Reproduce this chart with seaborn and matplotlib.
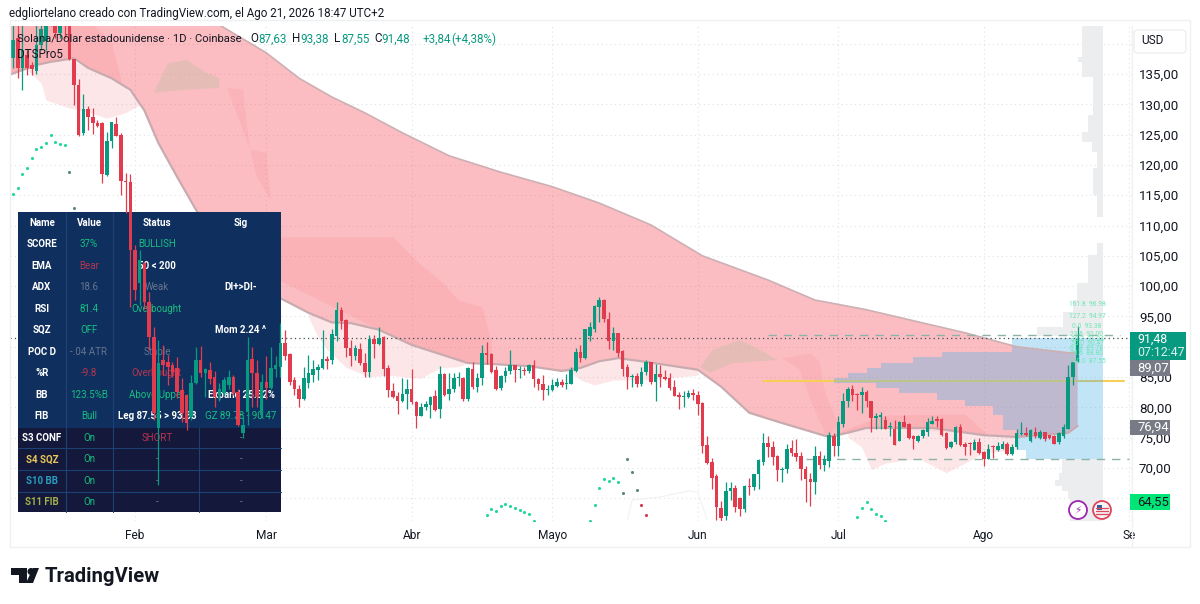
import numpy as np
import pandas as pd
import matplotlib
matplotlib.use("Agg")
import matplotlib.pyplot as plt
from matplotlib.patches import Rectangle, Circle, FancyBboxPatch, Polygon
import seaborn as sns

# candles, one row per month, day 0 is Feb 1
opens = [137.6,140.9,136,138.1,136.5,135.5,139.8,140.5,144.5,144,141.8,143.5,143,137.5,133.2,125.3,129.2,127.9,126.9,126.9,118.3,124,126.7,125,117.3,117.2,
         105.9,100.5,103.8,97.4,91.6,76.6,87.8,87.5,87,86.5,82.9,82,78.4,84,87.8,85.7,86.2,85,82,82.3,83.7,85,82.5,75.8,79.2,88,85.7,78.8,
         84.2,83.2,86.4,86.6,90.6,88.8,84.5,83,81.4,84,85.3,86.2,86.5,88,87.8,91.8,96,94.4,89.8,88.5,89.7,87.3,85.8,91.3,90.5,91.6,86.5,82.7,81.9,81,82.2,
         83,80.9,78.6,80.1,80.4,81.8,79.7,85.5,82.2,83,84.8,84.9,81.3,86.3,83.3,84.8,89,88.8,86.2,83.2,85.2,86,87,86.1,86.2,86,87,84.7,83.9,82.8,
         82.9,83.5,84.1,83.8,83.8,86,89.2,88.2,91.7,93,96.5,97.7,94.5,91,92.3,89.3,86.6,85,85.2,83.8,85.9,87.4,84.1,85.5,85,84.8,83.3,82,81.7,81.7,82.3,
         82,80.7,73.7,71,68.7,63.4,62,66.2,66.7,65,63.2,67,66.8,69,71,74.1,73.5,72,69.7,69.8,73.3,72.5,72,69.9,68.1,67.7,72,70.5,71.2,75.3,
         73.6,77.2,81,83,82.2,82,82.5,81,78.2,78.4,77.9,76.7,76.5,74.5,77.6,77.2,75.2,74.5,75.2,76,77.3,78,78,75.7,73.4,74.2,76.7,74,74,73,74.3,
         72.7,71.4,73.6,73,73.2,74,72.3,73.4,75.6,75.8,74.5,76,75,76,75.4,75.2,74.2,75.2,76.5,85,87.63]
highs = [144,144,144,139,137,144,144,147,147,146,146,146,146,137.5,134.2,131.7,129.7,129.4,127.4,127,125.4,127,127.9,125.2,118.7,118.5,
         106.8,106,104,99,93.3,91.1,90.3,88.6,87.5,88.3,84.8,82.2,85.3,90,90.1,86.5,87.5,86,84,85,86.2,85.3,83,78.4,91.6,90,87.8,85.5,
         88.5,90,88.5,93.9,92.8,89,85,83.7,86.6,88.6,87.8,87.2,92.8,88.5,92.9,97.4,96.6,94.5,91.1,90.2,90.6,88.9,92,92,93.2,91.7,87,84,82.6,84.8,84.6,
         86.4,81,80.7,81,81.8,82.8,86.8,85.6,85.7,85.6,85.9,85,86.6,87.5,85.6,90.3,90.7,88.9,86.8,85.4,86.7,89.4,87,86.8,86.7,87.1,87.8,84.8,85.3,83.7,
         84.6,84.8,84.6,85.5,86.7,89.8,90.3,93,94.1,96.9,98.2,97.8,95.7,93.3,92.3,89.4,87.2,85.5,85.6,86.6,87.8,87.5,87.2,87,86.1,85.6,84.5,82.6,82.7,82.9,83,
         82.7,80.8,75.3,71.6,69,64.6,67.7,67.7,67.2,65.2,67.2,68.4,69,71.5,75.7,75.3,74.5,72.1,70.2,74,74.6,74.7,72.7,70.3,69.1,73.6,72.8,72.1,76,75.8,
         78.6,82.4,83.4,83.7,82.3,83.4,82.9,81.1,79,79.2,78.5,77.5,77.9,77.8,78.7,77.4,75.4,75.4,76.4,78.2,78.5,78.5,78.2,76,74.5,76.9,77.2,74.2,74.3,74.7,75,
         72.8,74,73.8,74.2,74.5,74.2,74,76.5,77.5,76.8,76.4,76.8,76.3,76,75.5,75.4,76,77.2,87,87.5,93.38]
lows = [136,134.3,132.4,134.8,134.8,135,139,139,143,141,141,141,137.3,129.9,124.8,125,125.8,125.1,126.2,117,118.2,122.8,124.7,115,112,96.5,
        97.7,96.9,96.2,89.5,77.9,67.2,85.3,83.7,85,81.6,77.5,76.3,77.9,83.9,85,81.7,83.9,80,81,81.8,83,82,76.9,75,77,80,80.1,78.3,
        81.3,83,85,85,87.8,83.7,82,80,81.2,83.2,84.2,84.5,86.4,86.4,87.1,91,93,88.3,86.8,87.8,87,85,85,88.2,90.3,85.2,81.7,81.6,78.9,80.9,79.8,
        80.5,76.6,78.5,79.5,78.3,79.4,78.2,81.8,81.2,82.6,83.5,81.1,81.1,83.1,82.6,83.7,87.2,85.6,82.8,82.8,84.2,85.5,84.2,84.8,85.3,85.7,83.4,82.9,81.2,82,
        82.7,83.3,83.4,83.1,83.8,85.9,87.5,88,91,92.5,94.1,94,89.7,89.5,88.3,85.2,83.1,83.3,83.4,83.5,85.3,83.8,81.1,83.4,84.5,82.8,81.8,79.7,80,81.5,81.2,
        78.7,72.4,70.7,66.6,61.4,61,61.4,64.7,62.7,62,62.8,65.5,66.3,66.6,70.5,71.8,70.5,67.9,67.7,69.2,71.9,71.2,68,64.4,63.7,65.7,69.9,69.5,70.2,71.9,
        71.9,76.8,80,81,79.5,79,80.1,76,76.4,76.4,76.4,75.3,73.8,74.5,76.7,74.7,73.2,74.3,75,75.3,77.2,76.7,75.3,73.2,73.3,74,73.6,72.1,72.1,72.9,72.3,
        70.3,71.4,71.6,72.8,73.1,72.1,72.2,73.2,75.4,75.3,74.3,75,74.8,74.5,74.7,73.9,74,75,76.4,83.7,87.55]
closes = [140.6,136,139,136,135.8,139.8,142.5,144.5,144,141.8,143,143,137.5,133.2,124.9,129.2,127.9,126.9,126.4,118.5,123.9,127,124.8,117.3,117.2,106,
          99.4,104.3,97.4,91.6,79,87.3,87,86.6,85.8,82.5,79,77.4,84,87.8,85.7,86.3,84.7,81.7,83,84.5,85,82.4,77,77,87.8,85.7,81.7,84.1,
          83.2,86.5,87,90.6,88.5,84.2,83,81.4,84.8,85.7,86.3,86.7,88,87.7,92.1,96,94.3,89.8,88.5,89.8,87.3,85.8,91.3,90.5,91.5,86.3,82.9,81.7,81,82.2,83,
          80.8,78.5,80,80.6,81.7,79.6,85.5,82.1,83,84.8,85,81.3,86.5,83.3,84.8,89,88.7,85.9,83.1,85.2,86,87,86.1,86.2,86,87,84.6,83.8,82.8,82.9,
          83.6,84.2,83.7,83.9,86.2,89.2,88.2,93,93.2,96.7,97.7,94.5,91,92.3,89,86.4,85,85.2,83.8,85.9,87.4,84.1,85.5,85,84.7,83.2,81.9,81.7,81.8,82.3,82,
          80.6,73.6,70.8,68.3,63.5,61.8,66.2,66.7,63.5,63.2,67,66.8,69,71.3,74.1,73.4,71.8,69.7,69.8,73.2,72.5,71.8,69.8,68.1,67.7,72,70.5,71.4,75.4,73.6,
          77.6,81,83,82,82,82.6,81,78.2,78.6,78.8,76.5,76.9,73.8,77.6,76.8,74.9,74.7,75.3,76.3,77.6,77.8,77.8,75.4,73.3,74.3,76.7,73.8,73.5,73.9,74.3,72.4,
          71.4,73.2,73.5,73.6,74,72.3,73.5,75.8,75.8,75.4,76.2,75.2,76,74.7,74.9,74,75.8,76.8,85,87.5,91.48]

# the big cloud
upper_days = [-27,18,28,35,42,49,57,67,78,89,99,110,121,135,145,156,167,177,188,199,201]
upper_vals = [150,143.1,138.5,134.3,131.2,128.6,125.3,121.5,118.8,116.4,113.7,110.1,105,101,97.7,96.1,94.1,92.3,90,89,89.07]
lower_days = [-27,-21,-18,-13,-10,-5,-1,2,5,9,13,20,26,31,37,42,46,52,59,67,71,77,84,91,95,99,103,109,120,125,131,138,148,152,156,170,181,188,199,201]
lower_vals = [134.8,136.5,137,137.6,136,134.3,132.4,129,123.6,118,112.6,105.1,101,98,95.6,94,93.9,92.8,90.3,88.3,87.3,87.1,86.8,86,86.5,87.6,88.1,87.5,86.2,83.4,79.1,77.4,75.1,75.8,76.6,76.6,75.4,75.1,75.8,76.94]

# lighter cloud under the band
light_a_days = [-23,-20,-19,-14,-10,-6,-2,1]
light_a_vals = [135.7,133.5,130.7,129.4,128.7,127.7,128.6,129.9]
light_b_days = [37,39,41,45,50,54,58,61,65,69,71]
light_b_vals = [94.9,91.6,89.5,86.6,85,85.3,85,84.8,86.5,86.7,87.3]
light_c_days = [91,93,95,98,102,109,120]
light_c_vals = [86,85.7,84.5,83.7,84.5,84.5,85.3]
light_d_days = [152,155,157,160,167,173,177,181,188]
light_d_vals = [75.1,73.4,69.7,70.8,71.6,69.2,70.8,72.5,73]

# darker patches inside the band
dark_a_days = [-27,-21,-18,-13,-10,-5,-3]
dark_a_high = [144,144,144,144,144,140.1,134]
dark_b_days = [20,55,61,65,69,74,76]
dark_b_high = [108.1,108.1,103.5,101,97.7,96.6,90.6]
dark_c_days = [150,155,160,177,180,182]
dark_c_high = [75.8,77.4,78.7,78.9,76.7,75.4]
streak_a_days = [19.6,23,24,24.5,28,29,26,24.5,22]
streak_a_vals = [132.7,132.4,125.8,122.5,122,114.2,118,122.5,128]
streak_b_days = [138,144,146,147,150,147.5,144,141.8]
streak_b_vals = [88.1,88.9,87.5,82.9,77.1,75.1,81.2,86.2]
blob_a_days = [4,7,11,15,18,18,11]
blob_a_vals = [131.9,136.8,137.3,135.3,134.3,132.7,132.4]
blob_b_days = [120.5,123.2,129,133.3,137,127.5,122.6]
blob_b_vals = [86.6,89.5,91.1,89.5,87.8,87.3,85.7]

# blue profile block, price rows and how far left each reaches
blue_top = [91.4,89.1,88.3,87.3,86.5,85.7,84.8,84,83.2,82.4,81.2,80.2,78.7,76.3,75.1,73]
blue_bot = [89.1,88.3,87.3,86.5,85.7,84.8,84,83.2,82.4,81.2,80.2,78.7,76.3,75.1,73,71.5]
blue_left = [187,172,166,159,156,152,149,158,163,171,177,183,185,188,188,190]

# grey profile on the far right
grey_top = [143.1,137.8,137,134.5,128.2,125.4,123.8,122.1,119.5,115,107.1,105.1,100.5,97.7,95.7,93.3,71.5,69.2,68,67,66.2,65]
grey_bot = [137.8,137,134.5,128.2,125.4,123.8,122.1,119.5,115,111.4,105.1,100.5,97.7,95.7,93.3,91.8,69.2,68,67,66.2,65,61.2]
grey_left = [202,201,202,204.3,203.2,202,204,205.1,204.3,205.1,205.1,203.2,200.9,200,197.9,192.3,197.7,197,196.2,197.7,198.9,199.4]
profile_right = 206.4

# signal dots
green_dot_days = [-26,-25,-24,-23,-22,-21,-20,-19,-18,-17,-16,-15,75,76,77,78,79,80,81,82,83,84,85,97,98,99,100,101,102,103,154,155,156,157,158,159,160]
green_dot_vals = [115.2,116.2,118.5,119.5,121.1,122.6,123,123.6,124.9,123.8,123.4,123.3,62.2,63.2,62.9,63.7,64,63.7,63.4,63,62.7,62.4,61.3,61.3,63.9,66.7,68.2,67.9,68.4,67.6,61.9,63.4,64.4,63.2,62.4,62.1,61.3]
dark_dot_days = [-14,-13,104,105,106,107]
dark_dot_vals = [118.8,112.9,65.9,71.5,69.3,66.4]
red_dot_days = [108,109]
red_dot_vals = [63.9,62.2]
faint_days = [105,106,112,118,120,122]
faint_vals = [61.4,64.7,65.2,66.2,66,61.5]

# fib labels and levels
fib_labels = ["161.8  96.98","127.2  94.97","0.0  93.38","23.6  92.00","38.2  91.24","50.0  90.47","61.8  89.78","78.6  88.80","100.0  87.55"]
fib_prices = [96.98,94.97,93.38,92.0,91.2,90.47,89.78,88.8,87.55]
level_high = 91.9
level_low = 71.5
level_gold = 84.34

# axis
price_ticks = [140,135,130,125,120,115,110,105,100,95,90,85,80,75,70,65]
month_days = [0,28,59,89,120,150,181,212]
month_names = ["Feb","Mar","Abr","Mayo","Jun","Jul","Ago","Se"]

# indicator table
col_names = ["Name","Value","Status","Sig"]
row_names = ["SCORE","EMA","ADX","RSI","SQZ","POC D","%R","BB","FIB","S3 CONF","S4 SQZ","S10 BB","S11 FIB"]
row_values = ["37%","Bear","18.6","81.4","OFF","-.04 ATR","-9.8","123.5%B","Bull","On","On","On","On"]
row_status = ["BULLISH","50 < 200","Weak","Overbought","","Stable","Overbought","Above Upper","Leg 87.55 > 93.38","SHORT","-","-","-"]
row_sig = ["","","DI+>DI-","","Mom 2.24 ^","","","Expand 25.52%","GZ 89.78 - 90.47","-","-","-","-"]

GREEN = "#089981"
RED = "#e23b4e"
TXT = "#131722"
PGREEN = "#17c07f"
PRED = "#b8344f"
PGREY = "#66758c"
value_colors = [PGREEN,PRED,PGREY,PGREEN,PGREEN,PGREY,PRED,PGREEN,PGREEN,PGREEN,PGREEN,PGREEN,PGREEN]
status_colors = [PGREEN,"white",PGREY,PGREEN,"white",PGREY,PRED,PGREEN,"white",PRED,PGREY,PGREY,PGREY]
sig_colors = ["white","white","white","white","white","white","white","white",PGREEN,PGREY,PGREY,PGREY,PGREY]
name_colors = ["white"]*9 + ["white","#e8c75a","#2a9dc0","#a5b04a"]
row_y = [244,265.7,287,308.7,330,351.7,373.3,394.7,416.3,437.7,459.3,481,502.3]

sns.set_theme(style="white")
plt.rcParams["font.family"] = ["Roboto", "DejaVu Sans"]

fig = plt.figure(figsize=(12, 6.04), dpi=100)
ax = fig.add_axes([10/1200, (604-521)/604, 1122/1200, 495/604])
trans = fig.dpi_scale_trans

def px(x, y):
    return x/100, (604-y)/100

df = pd.DataFrame({"day": np.arange(-26, 202), "o": opens, "h": highs, "l": lows, "c": closes})
up = df[df.c >= df.o]
down = df[df.c < df.o]

# cloud
cloud = "#f7525f"
low_at = lambda d: np.interp(d, lower_days, lower_vals)
ax.fill(np.r_[upper_days, lower_days[::-1]], np.r_[upper_vals, lower_vals[::-1]], color=cloud, alpha=0.38, lw=0, zorder=1)
for d, v in [(light_a_days,light_a_vals),(light_b_days,light_b_vals),(light_c_days,light_c_vals),(light_d_days,light_d_vals)]:
    ax.fill_between(d, v, low_at(d), color=cloud, alpha=0.14, lw=0, zorder=1)
for d, v in [(dark_a_days,dark_a_high),(dark_b_days,dark_b_high),(dark_c_days,dark_c_high)]:
    ax.fill_between(d, v, low_at(d), color=cloud, alpha=0.10, lw=0, zorder=1.1)
for d, v in [(streak_a_days,streak_a_vals),(streak_b_days,streak_b_vals)]:
    ax.fill(d, v, color=cloud, alpha=0.09, lw=0, zorder=1.1)
for d, v in [(blob_a_days,blob_a_vals),(blob_b_days,blob_b_vals)]:
    ax.fill(d, v, color="#b7bd9c", alpha=0.3, lw=0, zorder=1.1)

# profiles, grey first then the blue on top, gold line runs under the blue
ax.barh(np.add(grey_top, grey_bot)/2, profile_right-np.array(grey_left), height=np.subtract(grey_top, grey_bot),
        left=grey_left, color="#ebedef", lw=0, zorder=1.2)
ax.plot([134,211], [level_gold,level_gold], color="#f7cf57", lw=1.5, zorder=1.25)
ax.barh(np.add(blue_top, blue_bot)/2, profile_right-np.array(blue_left), height=np.subtract(blue_top, blue_bot),
        left=blue_left, color="#4fb3e8", alpha=0.35, lw=0, zorder=1.3)

sns.lineplot(x=upper_days, y=upper_vals, ax=ax, color="#cdb0b4", linewidth=1.2, zorder=2)
sns.lineplot(x=lower_days, y=lower_vals, ax=ax, color="#c9abaf", linewidth=1.6, zorder=2)
sns.lineplot(x=faint_days, y=faint_vals, ax=ax, color="#f1f1f1", linewidth=0.8, zorder=2)

# levels
ax.plot([135,210], [level_high,level_high], color="#8db3a8", lw=1, ls=(0,(6,5)), zorder=2.5)
ax.plot([143,212], [level_low,level_low], color="#8db3a8", lw=1, ls=(0,(6,5)), zorder=2.5)
ax.axhline(closes[-1], color="#3c4a52", lw=0.9, ls=(0,(1,2.5)), zorder=2.4)

# dots
sns.scatterplot(x=green_dot_days, y=green_dot_vals, ax=ax, color="#22d6a0", s=5, linewidth=0, zorder=3)
sns.scatterplot(x=dark_dot_days, y=dark_dot_vals, ax=ax, color="#5b8a74", s=5, linewidth=0, zorder=3)
sns.scatterplot(x=red_dot_days, y=red_dot_vals, ax=ax, color="#cf3a50", s=5, linewidth=0, zorder=3)

# candles sit above the table
for part, col in [(up, GREEN), (down, RED)]:
    ax.vlines(part.day, part.l, part.h, color=col, lw=0.9, zorder=5)
    ax.bar(part.day, (part.c-part.o).abs().clip(lower=0.18), bottom=part[["o","c"]].min(axis=1), width=0.76, color=col, lw=0, zorder=5)

# table
ax.add_patch(Rectangle(px(18,512), 2.63, 3.0, transform=trans, color="#0f2f5f", lw=0, zorder=4, clip_on=False))
ax.add_patch(Rectangle(px(18,512), 2.63, 0.84, transform=trans, color="#14183a", lw=0, zorder=4.1, clip_on=False))
for x in [66,113,199]:
    ax.plot(*zip(px(x,212 if x!=199 else 428), px(x,512)), transform=trans, color="#1c4273", lw=0.8, zorder=4.2, clip_on=False)
for y in [448,470,492]:
    ax.plot(*zip(px(18,y), px(281,y)), transform=trans, color="#1c4273", lw=0.8, zorder=4.2, clip_on=False)

def cell(x, y, s, col, weight="normal", size=7):
    ax.text(*px(x,y), s, transform=trans, color=col, fontsize=size, fontweight=weight, ha="center", va="center", zorder=4.5, clip_on=False)

for x, s in zip([42,89,157,241], col_names):
    cell(x, 222.7, s, "white", "bold")
for i, y in enumerate(row_y):
    cell(42, y, row_names[i], name_colors[i], "bold")
    cell(89, y, row_values[i], value_colors[i])
    cell(157, y, row_status[i], status_colors[i], "bold" if status_colors[i] == "white" else "normal")
    cell(241, y, row_sig[i], sig_colors[i], "bold" if sig_colors[i] == "white" else "normal")

for lab, p in zip(fib_labels, fib_prices):
    ax.text(203, p, lab, color="#6fe6b4", fontsize=4.8, ha="center", va="center", zorder=6)

# axes and grid
ax.set_xlim(-26.65, 212.6)
ax.set_ylim(61.24, 142.92)
ax.set_yticks(price_ticks)
ax.set_yticklabels(["" if p in (140, 65) else f"{p},00" for p in price_ticks])
ax.set_xticks(month_days)
ax.set_xticklabels(month_names)
ax.yaxis.tick_right()
ax.tick_params(axis="y", length=0, pad=5, labelsize=9.6, labelcolor=TXT)
ax.tick_params(axis="x", length=0, pad=6, labelsize=8.6, labelcolor=TXT)
ax.grid(True, color="#dfe2e6", lw=0.8, ls=(0,(1,3)), zorder=0)
ax.set_axisbelow(True)
ax.set_xlabel("")
ax.set_ylabel("")
for s in ax.spines.values():
    s.set_visible(False)

# frame around the chart and the price scale
fig.add_artist(Rectangle(px(10,547), 11.8, 5.27, transform=trans, fill=False, ec="#eef0f2", lw=1))
fig.add_artist(plt.Line2D(*zip(px(1132,26), px(1132,547)), transform=trans, color="#f0f1f3", lw=1))
fig.add_artist(FancyBboxPatch(px(1135,52), 0.5, 0.21, boxstyle="round,pad=0.01,rounding_size=0.04", transform=trans, fc="white", ec="#eceef0", lw=1))
fig.text(*px(1141,41), "USD", transform=trans, fontsize=8.6, color=TXT, va="center")

# header and legend
fig.text(*px(9,14), "edgliortelano creado con TradingView.com, el Ago 21, 2026 18:47 UTC+2", transform=trans, fontsize=8.4, color=TXT, va="center")
fig.text(*px(17,39), "Solana/Dólar estadounidense · 1D · Coinbase", transform=trans, fontsize=8.1, color=TXT, va="center", zorder=7)
fig.text(*px(17,55), "DTSPro5", transform=trans, fontsize=8.4, color=TXT, va="center", zorder=7)
for x, s, col in [(250,"O",TXT),(258,"87,63",GREEN),(292,"H",TXT),(300,"93,38",GREEN),(334,"L",TXT),(341,"87,55",GREEN),(374,"C",TXT),(381,"91,48",GREEN),(423,"+3,84",GREEN),(451,"(+4,38%)",GREEN)]:
    fig.text(*px(x,39), s, transform=trans, fontsize=8.4, color=col, va="center", zorder=7)

# price tags
def tag(x0, y0, x1, y1, col):
    fig.add_artist(Rectangle(px(x0,y1), (x1-x0)/100, (y1-y0)/100, transform=trans, color=col, lw=0, zorder=5))

tag(1130,332,1186,360,GREEN)
tag(1130,360,1170,376,"#787b86")
tag(1130,420,1170,435,"#787b86")
tag(1130,494,1170,510,"#00e676")
fig.text(*px(1137,339), "91,48", transform=trans, fontsize=8.9, color="white", va="center", zorder=7)
fig.text(*px(1137,352.5), "07:12:47", transform=trans, fontsize=8.9, color="#d7f0ea", va="center", zorder=7)
fig.text(*px(1137,368), "89,07", transform=trans, fontsize=9.4, color="white", va="center", zorder=7)
fig.text(*px(1137,427), "76,94", transform=trans, fontsize=9.4, color="white", va="center", zorder=7)
fig.text(*px(1137,502), "64,55", transform=trans, fontsize=9.4, color=TXT, va="center", zorder=7)

# little event icons
fig.add_artist(Circle(px(1078,510), 0.09, transform=trans, fc="white", ec="#9c27b0", lw=1.3, zorder=6))
fig.text(*px(1078,510), "\u26a1", transform=trans, fontsize=7.5, color="#9c27b0", ha="center", va="center", family="DejaVu Sans", zorder=7)
fig.add_artist(Circle(px(1102,510), 0.09, transform=trans, fc="#f4f4f6", ec="#e0455a", lw=1.3, zorder=6))
fig.add_artist(Rectangle(px(1097,510), 0.05, 0.05, transform=trans, color="#3b5a9d", lw=0, zorder=7))
for y in [508,511,514]:
    fig.add_artist(plt.Line2D(*zip(px(1096,y), px(1108,y)), transform=trans, color="#e0455a", lw=0.9, zorder=7))

# logo
LOGO = "#131722"
fig.add_artist(Polygon([px(11,568),px(27,568),px(27,583),px(19,583),px(19,575),px(11,575)], transform=trans, color=LOGO, lw=0))
fig.add_artist(Circle(px(31,571.5), 0.035, transform=trans, color=LOGO, lw=0))
fig.add_artist(Polygon([px(33,568),px(39,568),px(33,583),px(26,583)], transform=trans, color=LOGO, lw=0))
fig.text(*px(45,576), "TradingView", transform=trans, fontsize=14.6, fontweight="bold", color=LOGO, va="center")

fig.savefig("out.png", dpi=100, facecolor="white")
